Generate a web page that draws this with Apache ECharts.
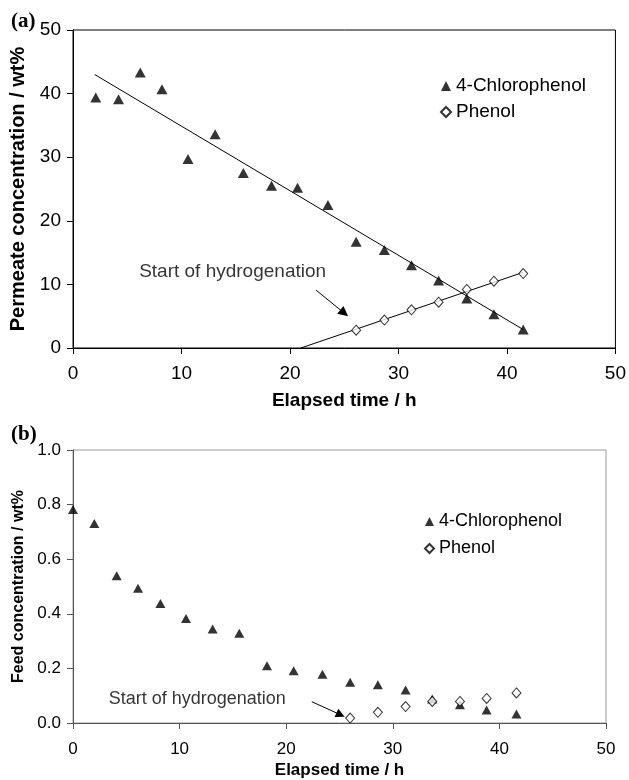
<!DOCTYPE html>
<html>
<head>
<meta charset="utf-8">
<script src="https://cdn.jsdelivr.net/npm/echarts@6/dist/echarts.min.js"></script>
<style>
html,body{margin:0;padding:0;background:#fff;}
#chart{width:629px;height:780px;}
</style>
</head>
<body>
<div id="chart"></div>
<script>
// ---------- Panel (a): permeate concentration ----------
const timeA_cp = [2.1, 4.2, 6.2, 8.2, 10.6, 13.1, 15.7, 18.3, 20.7, 23.5, 26.1, 28.7, 31.2, 33.7, 36.3, 38.8, 41.5];
const permeate_cp = [39.4, 39.1, 43.3, 40.7, 29.7, 33.6, 27.5, 25.5, 25.2, 22.5, 16.7, 15.4, 13.0, 10.6, 7.8, 5.3, 2.9];
const timeA_ph = [26.1, 28.7, 31.2, 33.7, 36.3, 38.8, 41.5];
const permeate_ph = [2.8, 4.4, 6.0, 7.2, 9.2, 10.5, 11.7];
// trend lines (end points)
const trendCpX = [2.0, 41.5];
const trendCpY = [43.0, 2.9];
const trendPhX = [21.0, 41.5];
const trendPhY = [0.0, 11.9];

// ---------- Panel (b): feed concentration ----------
const timeB_cp = [0, 2.0, 4.1, 6.1, 8.2, 10.6, 13.1, 15.6, 18.2, 20.7, 23.4, 26.0, 28.6, 31.2, 33.7, 36.3, 38.8, 41.6];
const feed_cp = [0.782, 0.731, 0.539, 0.494, 0.438, 0.383, 0.344, 0.329, 0.210, 0.191, 0.179, 0.149, 0.140, 0.121, 0.088, 0.067, 0.048, 0.033];
const timeB_ph = [26.0, 28.6, 31.2, 33.7, 36.3, 38.8, 41.6];
const feed_ph = [0.018, 0.039, 0.060, 0.079, 0.079, 0.090, 0.110];

// annotations (data coordinates)
const annoText = 'Start of hydrogenation';
const annoA_text = [6.05, 11.95];
const annoA_arrow = [[22.4, 9.1], [25.0, 5.5]];
const annoB_text = [3.3, 0.088];
const annoB_arrow = [[22.4, 0.078], [25.1, 0.030]];

// tick settings
const xTicks = {min: 0, max: 50, interval: 10};
const yTicksA = {min: 0, max: 50, interval: 10};
const yTicksB = {min: 0, max: 1.0, interval: 0.2};

const names = ['4-Chlorophenol', 'Phenol'];

const zip = (xs, ys) => xs.map((x, i) => [x, ys[i]]);

const FONT = 'Liberation Sans';

function axisCommon(color, fontSize, margin) {
  return {
    axisLine: {show: true, onZero: false, lineStyle: {color: color, width: 1}},
    axisTick: {show: true, length: 6, lineStyle: {color: color, width: 1}},
    axisLabel: {color: '#000', fontSize: fontSize, fontFamily: FONT, margin: margin},
    splitLine: {show: false}
  };
}

const cpStyleA = {color: '#000'};
const phStyle = {color: '#fff', borderColor: '#000', borderWidth: 1};

const chart = echarts.init(document.getElementById('chart'), null, {renderer: 'canvas'});

const option = {
  animation: false,
  backgroundColor: '#fff',
  textStyle: {fontFamily: FONT},
  grid: [
    {left: 73, top: 30, width: 545, height: 318, show: true, borderColor: '#000', borderWidth: 1, backgroundColor: 'transparent'},
    {left: 73, top: 450, width: 533, height: 274, show: true, borderColor: '#9a9a9a', borderWidth: 1, backgroundColor: 'transparent'}
  ],
  xAxis: [
    Object.assign({
      gridIndex: 0, type: 'value', min: xTicks.min, max: xTicks.max, interval: xTicks.interval,
      name: 'Elapsed time / h', nameLocation: 'middle', nameGap: 43,
      nameTextStyle: {fontWeight: 'bold', fontSize: 19, color: '#000', fontFamily: FONT}
    }, axisCommon('#000', 19, 16)),
    Object.assign({
      gridIndex: 1, type: 'value', min: xTicks.min, max: xTicks.max, interval: xTicks.interval,
      name: 'Elapsed time / h', nameLocation: 'middle', nameGap: 39,
      nameTextStyle: {fontWeight: 'bold', fontSize: 17, color: '#000', fontFamily: FONT}
    }, axisCommon('#555', 17, 18))
  ],
  yAxis: [
    Object.assign({
      gridIndex: 0, type: 'value', min: yTicksA.min, max: yTicksA.max, interval: yTicksA.interval,
      name: 'Permeate concentration / wt%', nameLocation: 'middle', nameGap: 44,
      nameTextStyle: {fontWeight: 'bold', fontSize: 20, color: '#000', fontFamily: FONT}
    }, axisCommon('#000', 19, 12)),
    Object.assign({
      gridIndex: 1, type: 'value', min: yTicksB.min, max: yTicksB.max, interval: yTicksB.interval,
      name: 'Feed concentration / wt%', nameLocation: 'middle', nameGap: 46,
      nameTextStyle: {fontWeight: 'bold', fontSize: 16, color: '#000', fontFamily: FONT}
    }, axisCommon('#555', 17, 12), {
      axisLabel: {color: '#000', fontSize: 17, fontFamily: FONT, margin: 12, formatter: v => v.toFixed(1)}
    })
  ],
  legend: [
    {
      data: names, orient: 'vertical', left: 435, top: 68, itemWidth: 10, itemHeight: 10, itemGap: 0,
      selectedMode: false,
      textStyle: {fontSize: 19, lineHeight: 26, color: '#000', fontFamily: FONT}
    },
    {
      data: names, orient: 'vertical', left: 419, top: 503, itemWidth: 9, itemHeight: 9, itemGap: 0,
      selectedMode: false,
      textStyle: {fontSize: 18, lineHeight: 27, color: '#000', fontFamily: FONT}
    }
  ],
  graphic: [
    {type: 'text', left: 11, top: 11, style: {text: '(a)', font: 'bold 21px "Liberation Serif"', fill: '#000'}},
    {type: 'text', left: 11, top: 424, style: {text: '(b)', font: 'bold 21px "Liberation Serif"', fill: '#000'}}
  ],
  series: [
    // ---- panel (a) ----
    {
      name: 'trend-cp', type: 'line', xAxisIndex: 0, yAxisIndex: 0, data: zip(trendCpX, trendCpY),
      symbol: 'none', lineStyle: {color: '#000', width: 1}, silent: true, z: 1
    },
    {
      name: 'trend-ph', type: 'line', xAxisIndex: 0, yAxisIndex: 0, data: zip(trendPhX, trendPhY),
      symbol: 'none', lineStyle: {color: '#000', width: 1}, silent: true, z: 1
    },
    {
      name: names[0], type: 'scatter', xAxisIndex: 0, yAxisIndex: 0, data: zip(timeA_cp, permeate_cp),
      symbol: 'triangle', symbolSize: [11, 10], itemStyle: cpStyleA, z: 3
    },
    {
      name: names[1], type: 'scatter', xAxisIndex: 0, yAxisIndex: 0, data: zip(timeA_ph, permeate_ph),
      symbol: 'diamond', symbolSize: [9, 10], itemStyle: phStyle, z: 3
    },
    {
      name: 'anno-a', type: 'scatter', xAxisIndex: 0, yAxisIndex: 0, data: [annoA_text],
      symbolSize: 1, itemStyle: {color: 'transparent'}, silent: true,
      label: {show: true, position: 'right', distance: 0, formatter: annoText, fontSize: 19, color: '#000', fontFamily: FONT},
      markLine: {
        silent: true, symbol: ['none', 'triangle'], symbolSize: 10,
        lineStyle: {color: '#000', width: 1, type: 'solid'}, label: {show: false},
        data: [[{coord: annoA_arrow[0]}, {coord: annoA_arrow[1]}]]
      }
    },
    // ---- panel (b) ----
    {
      name: names[0], type: 'scatter', xAxisIndex: 1, yAxisIndex: 1, data: zip(timeB_cp, feed_cp),
      symbol: 'triangle', symbolSize: [10, 9], itemStyle: cpStyleA, z: 3
    },
    {
      name: names[1], type: 'scatter', xAxisIndex: 1, yAxisIndex: 1, data: zip(timeB_ph, feed_ph),
      symbol: 'diamond', symbolSize: [9, 10], itemStyle: phStyle, z: 3
    },
    {
      name: 'anno-b', type: 'scatter', xAxisIndex: 1, yAxisIndex: 1, data: [annoB_text],
      symbolSize: 1, itemStyle: {color: 'transparent'}, silent: true,
      label: {show: true, position: 'right', distance: 0, formatter: annoText, fontSize: 18, color: '#000', fontFamily: FONT},
      markLine: {
        silent: true, symbol: ['none', 'triangle'], symbolSize: 9,
        lineStyle: {color: '#000', width: 1, type: 'solid'}, label: {show: false},
        data: [[{coord: annoB_arrow[0]}, {coord: annoB_arrow[1]}]]
      }
    }
  ]
};

chart.setOption(option);
</script>
</body>
</html>
